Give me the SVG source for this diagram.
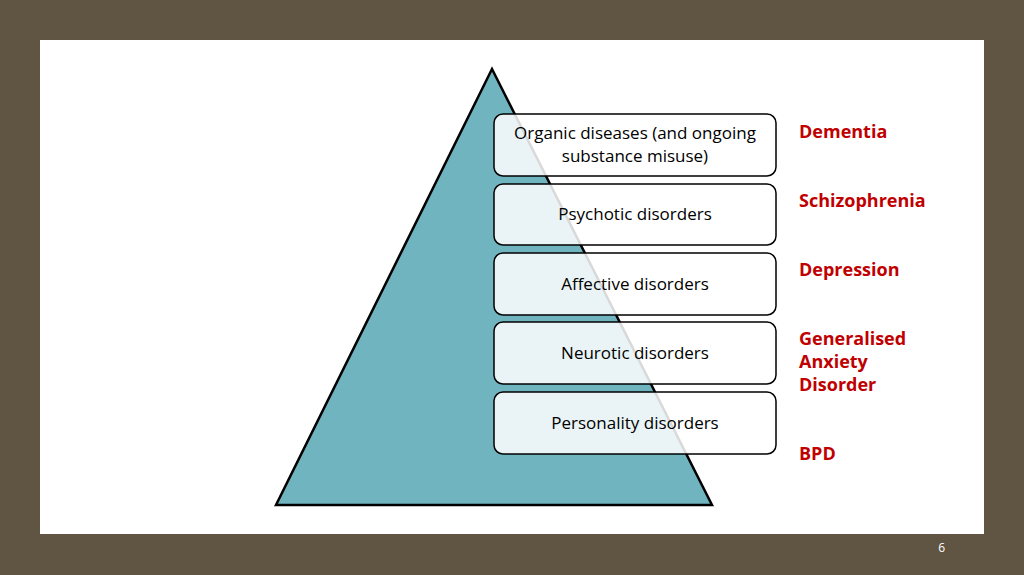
<svg xmlns="http://www.w3.org/2000/svg" width="1024" height="575" viewBox="0 0 1024 575">
<style>
.b{fill:#fff;fill-opacity:0.85;stroke:#000;stroke-width:1.5}
.t{font-family:"Open Sans",sans-serif;font-size:17px;text-anchor:middle;fill:#000}
.r{font-family:"Open Sans",sans-serif;font-size:18px;font-weight:bold;fill:#c00000}
</style>
<rect width="1024" height="575" fill="#605443"/>
<rect x="40" y="40" width="944" height="494" fill="#fff"/>
<g id="pyramid"><polygon points="492,69 276,505 712,505" fill="#70b4c0" stroke="#000" stroke-width="2.5"/></g>
<g id="connectors"/>
<g id="n1"><rect class="b" x="494" y="114" width="282" height="62" rx="9"/><text class="t" x="635" y="139">Organic diseases (and ongoing</text><text class="t" x="635" y="162">substance misuse)</text></g>
<g id="n2"><rect class="b" x="494" y="184" width="282" height="61" rx="9"/><text class="t" x="635" y="220">Psychotic disorders</text></g>
<g id="n3"><rect class="b" x="494" y="253" width="282" height="62" rx="9"/><text class="t" x="635" y="290">Affective disorders</text></g>
<g id="n4"><rect class="b" x="494" y="322" width="282" height="62" rx="9"/><text class="t" x="635" y="359">Neurotic disorders</text></g>
<g id="n5"><rect class="b" x="494" y="392" width="282" height="62" rx="9"/><text class="t" x="635" y="429">Personality disorders</text></g>
<g id="labels">
<text class="r" x="799" y="138">Dementia</text>
<text class="r" x="799" y="207">Schizophrenia</text>
<text class="r" x="799" y="276">Depression</text>
<text class="r" x="799" y="345">Generalised</text>
<text class="r" x="799" y="368">Anxiety</text>
<text class="r" x="799" y="391">Disorder</text>
<text class="r" x="799" y="460">BPD</text>
</g>
<text x="945" y="552" font-family="Open Sans,sans-serif" font-size="12" fill="#fff" text-anchor="end">6</text>
</svg>
